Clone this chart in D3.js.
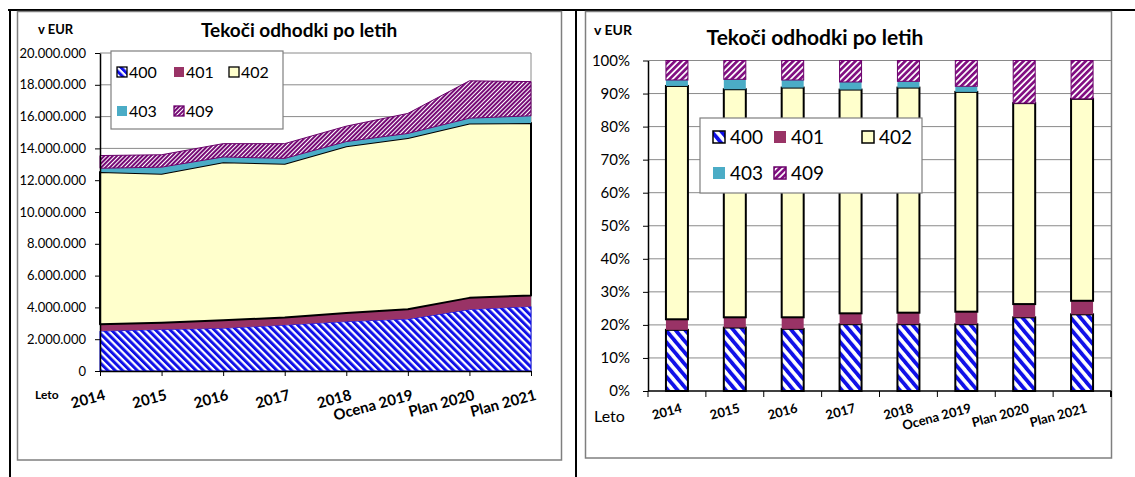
<!DOCTYPE html>
<html>
<head>
<meta charset="utf-8">
<script src="https://cdn.jsdelivr.net/npm/d3@7"></script>
<style>
body { margin: 0; background: #fff; }
text { font-family: Lato, "Open Sans", sans-serif; fill: #000; }
</style>
</head>
<body>
<div id="chart"></div>
<script>
// categories and series (left: EUR, right: shares in %)
var years = ["2014", "2015", "2016", "2017", "2018", "Ocena 2019", "Plan 2020", "Plan 2021"];
var keys = ["400", "401", "402", "403", "409"];

var eur400 = [2510000, 2610000, 2690000, 2890000, 3110000, 3270000, 3870000, 4060000];
var eur401 = [430000, 420000, 500000, 470000, 540000, 620000, 730000, 690000];
var eur402 = [9570000, 9380000, 9940000, 9680000, 10490000, 10770000, 10960000, 10850000];
var eur403 = [240000, 410000, 330000, 330000, 290000, 280000, 340000, 450000];
var eur409 = [800000, 780000, 840000, 930000, 970000, 1260000, 2350000, 2150000];

var pct400 = [18.5, 19.2, 18.8, 20.2, 20.2, 20.2, 22.3, 23.2];
var pct401 = [3.2, 3.1, 3.5, 3.3, 3.5, 3.8, 4.0, 4.1];
var pct402 = [70.6, 69.0, 69.5, 67.7, 68.1, 66.5, 60.8, 61.1];
var pct403 = [1.8, 3.0, 2.3, 2.3, 1.9, 1.7, 0, 0];
var pct409 = [5.9, 5.7, 5.9, 6.5, 6.3, 7.8, 12.9, 11.6];

var eurTicks = d3.range(0, 20000001, 2000000);
var pctTicks = d3.range(0, 11).map(d => d / 10);

var title = "Tekoči odhodki po letih";

var sl = d3.formatLocale({decimal: ",", thousands: ".", grouping: [3], currency: ["", " €"]});
var fmtEur = sl.format(",");
var fmtPct = d3.format(".0%");

function toRows(a, b, c, d, e) {
    return years.map((y, i) => ({year: y, "400": a[i], "401": b[i], "402": c[i], "403": d[i], "409": e[i]}));
}
var rowsEur = toRows(eur400, eur401, eur402, eur403, eur409);
var rowsPct = toRows(pct400, pct401, pct402, pct403, pct409);

var svg = d3.select("#chart").append("svg")
    .attr("width", 1135).attr("height", 477);

var defs = svg.append("defs");
function hatch(id, size, stripe, color, angle) {
    var p = defs.append("pattern").attr("id", id)
        .attr("patternUnits", "userSpaceOnUse")
        .attr("width", size).attr("height", size)
        .attr("patternTransform", "rotate(" + angle + ")");
    p.append("rect").attr("width", size).attr("height", size).attr("fill", "#fff");
    p.append("rect").attr("width", stripe).attr("height", size).attr("fill", color);
}
hatch("h400a", 5.2, 3.0, "#1010e8", -45);
hatch("h409a", 3.0, 2.0, "#760a76", 45);
hatch("h400b", 7.4, 3.8, "#1010e8", -40);
hatch("h409b", 4.4, 2.7, "#820f82", 45);

var fillL = {"400": "url(#h400a)", "401": "#993366", "402": "#ffffcc", "403": "#4bacc6", "409": "url(#h409a)"};
var fillR = {"400": "url(#h400b)", "401": "#993366", "402": "#ffffcc", "403": "#4bacc6", "409": "url(#h409b)"};
var strokeC = {"400": "#1414ee", "401": "none", "402": "#000", "403": "none", "409": "#6a006a"};

// outer table lines
svg.append("line").attr("x1", 8).attr("x2", 1135).attr("y1", 10).attr("y2", 10)
    .attr("stroke", "#000").attr("stroke-width", 2);
svg.append("line").attr("x1", 10).attr("x2", 10).attr("y1", 9).attr("y2", 477)
    .attr("stroke", "#000").attr("stroke-width", 2);
svg.append("line").attr("x1", 576).attr("x2", 576).attr("y1", 9).attr("y2", 477)
    .attr("stroke", "#000").attr("stroke-width", 2);

// chart borders
svg.append("rect").attr("x", 17.5).attr("y", 11.5).attr("width", 544).attr("height", 448.5)
    .attr("fill", "#fff").attr("stroke", "#7f7f7f").attr("stroke-width", 1.5);
svg.append("rect").attr("x", 585.5).attr("y", 11.5).attr("width", 526).attr("height", 446.5)
    .attr("fill", "#fff").attr("stroke", "#7f7f7f").attr("stroke-width", 1.5);

// ---------- LEFT: stacked area ----------
var xL = d3.scalePoint().domain(years).range([100, 531]);
var yL = d3.scaleLinear().domain([0, 20000000]).range([371, 53]);
var gL = svg.append("g");

gL.selectAll(".grid").data(eurTicks.slice(1)).enter().append("line")
    .attr("x1", 100).attr("x2", 531)
    .attr("y1", d => yL(d)).attr("y2", d => yL(d))
    .attr("stroke", "#8a8a8a").attr("stroke-width", 1);
gL.append("line").attr("x1", 531).attr("x2", 531).attr("y1", yL(20000000)).attr("y2", yL(0))
    .attr("stroke", "#8a8a8a");

var stackL = d3.stack().keys(keys)(rowsEur);
var area = d3.area()
    .x(d => xL(d.data.year))
    .y0(d => yL(d[0]))
    .y1(d => yL(d[1]));

gL.selectAll(".area").data(stackL).enter().append("path")
    .attr("d", area)
    .attr("fill", d => fillL[d.key])
    .attr("stroke", d => strokeC[d.key])
    .attr("stroke-width", d => d.key == "402" ? 2 : 1)
    .attr("stroke-linejoin", "round");

var axL = gL.append("g").attr("transform", "translate(100,0)")
    .call(d3.axisLeft(yL).tickValues(eurTicks).tickFormat(fmtEur).tickSize(5).tickSizeOuter(0).tickPadding(9));
var axLb = gL.append("g").attr("transform", "translate(0,371)")
    .call(d3.axisBottom(xL).tickSize(5).tickSizeOuter(0).tickFormat(""));
[axL, axLb].forEach(function(a) {
    a.select(".domain").attr("stroke", "#000").attr("stroke-width", 1.5);
    a.selectAll(".tick line").attr("stroke", "#000");
});
axL.selectAll(".tick text").attr("font-size", "13px").attr("fill", "#000")
    .attr("font-family", "Lato, sans-serif");

gL.selectAll(".xlab").data(years).enter().append("text")
    .attr("transform", d => "translate(" + (xL(d) + 3) + ",388) rotate(-15)")
    .attr("text-anchor", "end").attr("dy", "0.8em")
    .attr("font-size", "15px").attr("font-weight", "bold")
    .text(d => d);

gL.append("text").attr("x", 35).attr("y", 399).attr("font-size", "12px").attr("font-weight", "bold").text("Leto");
gL.append("text").attr("x", 38).attr("y", 34).attr("font-size", "13px").attr("font-weight", "bold").text("v EUR");
gL.append("text").attr("x", 299).attr("y", 37).attr("text-anchor", "middle")
    .attr("font-size", "19px").attr("font-weight", "bold").text(title);

// legend left
var lgL = gL.append("g");
lgL.append("rect").attr("x", 111).attr("y", 51).attr("width", 172).attr("height", 78)
    .attr("fill", "#fff").attr("stroke", "#7f7f7f").attr("stroke-width", 1.2);
var posL = [[117, 72], [174, 72], [229, 72], [117, 111], [174, 111]];
keys.forEach(function(k, i) {
    var p = posL[i];
    lgL.append("rect").attr("x", p[0]).attr("y", p[1] - 5).attr("width", 10).attr("height", 10)
        .attr("fill", fillL[k])
        .attr("stroke", k == "400" || k == "402" ? "#000" : (k == "409" ? "#6a006a" : "none"))
        .attr("stroke-width", 1.3);
    lgL.append("text").attr("x", p[0] + 12).attr("y", p[1]).attr("dy", "0.36em")
        .attr("font-size", "16px").text(k);
});

// ---------- RIGHT: 100% stacked bars ----------
var xR = d3.scaleBand().domain(years).range([648, 1111]).paddingInner(0.62).paddingOuter(0.31);
var yR = d3.scaleLinear().domain([0, 1]).range([391, 60.5]);
var gR = svg.append("g");

gR.selectAll(".grid").data(pctTicks.slice(1)).enter().append("line")
    .attr("x1", 648).attr("x2", 1111)
    .attr("y1", d => yR(d)).attr("y2", d => yR(d))
    .attr("stroke", "#8a8a8a").attr("stroke-width", 1);

var stackR = d3.stack().keys(keys).offset(d3.stackOffsetExpand)(rowsPct);
gR.selectAll(".series").data(stackR).enter().append("g")
    .attr("fill", d => fillR[d.key])
    .attr("stroke", d => strokeC[d.key] == "#1414ee" ? "#000" : strokeC[d.key])
    .attr("stroke-width", d => d.key == "409" ? 1 : 2)
    .selectAll("rect").data(d => d.filter(v => v[1] - v[0] > 0)).enter().append("rect")
    .attr("x", d => xR(d.data.year))
    .attr("y", d => yR(d[1]))
    .attr("width", xR.bandwidth())
    .attr("height", d => yR(d[0]) - yR(d[1]));

var axR = gR.append("g").attr("transform", "translate(648,0)")
    .call(d3.axisLeft(yR).tickValues(pctTicks).tickFormat(fmtPct).tickSize(5).tickSizeOuter(0).tickPadding(13));
axR.select(".domain").attr("stroke", "#000").attr("stroke-width", 1.5);
axR.selectAll(".tick line").attr("stroke", "#000");
axR.selectAll(".tick text").attr("font-size", "15px").attr("fill", "#000")
    .attr("font-family", "Lato, sans-serif");

gR.append("line").attr("x1", 648).attr("x2", 1111).attr("y1", 391).attr("y2", 391)
    .attr("stroke", "#000").attr("stroke-width", 1.5);
gR.selectAll(".xtick").data(d3.range(0, years.length + 1)).enter().append("line")
    .attr("x1", d => 648 + d * xR.step()).attr("x2", d => 648 + d * xR.step())
    .attr("y1", 391).attr("y2", 397)
    .attr("stroke", "#000").attr("stroke-width", d => d == years.length ? 2 : 1);

gR.selectAll(".xlab").data(years).enter().append("text")
    .attr("transform", d => "translate(" + (xR(d) + xR.bandwidth() / 2 + 3) + ",402) rotate(-15)")
    .attr("text-anchor", "end").attr("dy", "0.8em")
    .attr("font-size", "13px").attr("font-weight", "bold")
    .text(d => d);

gR.append("text").attr("x", 594).attr("y", 422).attr("font-size", "16px").text("Leto");
gR.append("text").attr("x", 594).attr("y", 35).attr("font-size", "14px").attr("font-weight", "bold").text("v EUR");
gR.append("text").attr("x", 815).attr("y", 45).attr("text-anchor", "middle")
    .attr("font-size", "21px").attr("font-weight", "bold").text(title);

// legend right
var lgR = gR.append("g");
lgR.append("rect").attr("x", 700).attr("y", 118).attr("width", 222).attr("height", 75)
    .attr("fill", "#fff").attr("stroke", "#7f7f7f").attr("stroke-width", 1.2);
var posR = [[713, 137], [774, 137], [862, 137], [713, 173], [774, 173]];
keys.forEach(function(k, i) {
    var p = posR[i];
    lgR.append("rect").attr("x", p[0]).attr("y", p[1] - 6).attr("width", 12).attr("height", 12)
        .attr("fill", fillR[k])
        .attr("stroke", k == "400" || k == "402" ? "#000" : (k == "409" ? "#6a006a" : "none"))
        .attr("stroke-width", 1.5);
    lgR.append("text").attr("x", p[0] + 17).attr("y", p[1]).attr("dy", "0.36em")
        .attr("font-size", "19px").text(k);
});
</script>
</body>
</html>
